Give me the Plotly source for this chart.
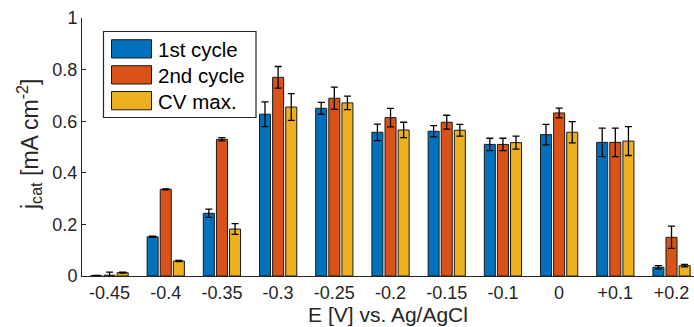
import plotly.graph_objects as go

# ---- data ----
categories = ["-0.45", "-0.4", "-0.35", "-0.3", "-0.25", "-0.2", "-0.15", "-0.1", "0", "+0.1", "+0.2"]
series_names = ["1st cycle", "2nd cycle", "CV max."]
first_cycle = [0.002, 0.152, 0.243, 0.627, 0.650, 0.557, 0.561, 0.510, 0.548, 0.518, 0.034]
first_err = [0.000, 0.002, 0.016, 0.048, 0.023, 0.032, 0.022, 0.024, 0.040, 0.055, 0.006]
second_cycle = [0.003, 0.336, 0.530, 0.770, 0.689, 0.614, 0.596, 0.510, 0.632, 0.518, 0.150]
second_err = [0.012, 0.002, 0.006, 0.042, 0.043, 0.036, 0.027, 0.024, 0.019, 0.055, 0.043]
cv_max = [0.013, 0.058, 0.182, 0.655, 0.671, 0.566, 0.565, 0.517, 0.557, 0.523, 0.040]
cv_max_err = [0.002, 0.002, 0.021, 0.052, 0.026, 0.030, 0.023, 0.025, 0.041, 0.056, 0.005]
y_ticks = [0, 0.2, 0.4, 0.6, 0.8, 1]
y_ticklabels = ["0", "0.2", "0.4", "0.6", "0.8", "1"]
x_title = "E [V] vs. Ag/AgCl"
y_title = "j<sub>cat</sub> [mA cm<sup>-2</sup>]"

colors = ["#0072BD", "#D95319", "#EDB120"]
FONT = "Liberation Sans, Arial, sans-serif"
TXT = "#262626"

W, H = 694, 327
L, R, T, B = 82, 0, 18, 51
PW, PH = W - L - R, H - T - B

x_idx = list(range(len(categories)))
fig = go.Figure()
for name, vals, errs, col in zip(series_names, [first_cycle, second_cycle, cv_max],
                                 [first_err, second_err, cv_max_err], colors):
    fig.add_trace(go.Bar(
        x=x_idx, y=vals, name=name, showlegend=False,
        marker=dict(color=col, line=dict(color="#1a1a1a", width=1)),
        error_y=dict(type="data", array=errs, visible=True, color="black",
                     thickness=1.3, width=3.5),
    ))

# helpers: pixel position -> paper coordinates
def px(xp):
    return (xp - L) / PW

def py(yp):
    return (H - B - yp) / PH

# custom legend (MATLAB-style large swatches)
shapes = [dict(type="rect", xref="paper", yref="paper",
               x0=px(103.5), x1=px(256), y0=py(31.5), y1=py(117.5),
               line=dict(color=TXT, width=1.2), fillcolor="white", layer="above")]
annotations = []
row_tops = [39.7, 65.7, 91.5]
for name, col, top in zip(series_names, colors, row_tops):
    shapes.append(dict(type="rect", xref="paper", yref="paper",
                       x0=px(111.5), x1=px(151.5), y0=py(top), y1=py(top + 18.3),
                       line=dict(color="#1a1a1a", width=1), fillcolor=col, layer="above"))
    annotations.append(dict(xref="paper", yref="paper", x=px(155.5), y=py(top + 9.5),
                            text=name, showarrow=False, xanchor="left", yanchor="middle",
                            font=dict(family=FONT, size=20.5, color="black")))

# y-axis title placed as rotated annotation
annotations.append(dict(xref="paper", yref="paper", x=px(29), y=py(145),
                        text=y_title, textangle=-90, showarrow=False,
                        xanchor="center", yanchor="middle",
                        font=dict(family=FONT, size=23, color=TXT)))

fig.update_layout(
    width=W, height=H,
    margin=dict(l=L, r=R, t=T, b=B, autoexpand=False),
    paper_bgcolor="white", plot_bgcolor="white",
    barmode="group", bargap=0.3, bargroupgap=0.16,
    font=dict(family=FONT, size=18, color=TXT),
    shapes=shapes, annotations=annotations,
    showlegend=False,
)
fig.update_xaxes(
    range=[-0.49, 10.4], tickmode="array", tickvals=x_idx, ticktext=categories,
    ticks="inside", ticklen=4, tickcolor=TXT, showline=True, linecolor=TXT, linewidth=1,
    showgrid=False, zeroline=False, layer="below traces", automargin=False,
    title=dict(text=x_title, font=dict(size=21, color=TXT), standoff=0),
    tickfont=dict(size=18, color=TXT),
)
fig.update_yaxes(
    range=[0, 1], tickmode="array", tickvals=y_ticks, ticktext=y_ticklabels,
    ticks="inside", ticklen=4, tickcolor=TXT, showline=True, linecolor=TXT, linewidth=1,
    showgrid=False, zeroline=False, automargin=False,
    tickfont=dict(size=18, color=TXT),
)

fig.write_html("out.html", config={"displayModeBar": False},
               post_script="document.body.style.margin='0';")
